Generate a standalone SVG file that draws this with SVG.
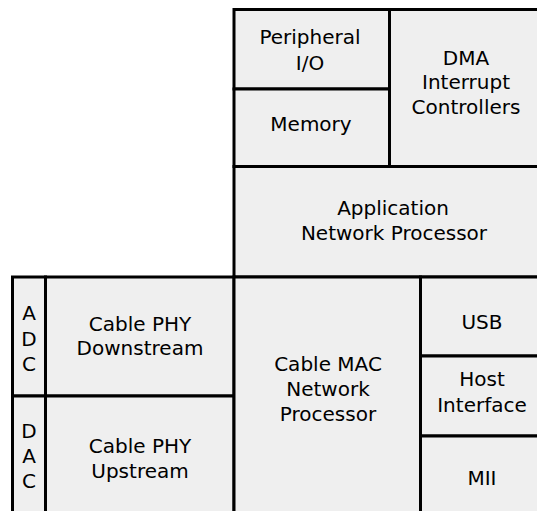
<svg xmlns="http://www.w3.org/2000/svg" width="537" height="511" viewBox="0 0 537 511">
<style>
.box{fill:#efefef;stroke:#000;stroke-width:3}
.thin{fill:#efefef;stroke:#000;stroke-width:2.2}
text{font-family:"DejaVu Sans","Liberation Sans",sans-serif;font-size:20px;fill:#000;text-anchor:middle}
</style>
<rect width="537" height="511" fill="#fff"/>
<g id="peripheral-io">
<rect class="box" x="234" y="9.5" width="155.5" height="79.5"/>
<text x="310" y="44">Peripheral</text>
<text x="310" y="70">I/O</text>
</g>
<g id="memory">
<rect class="box" x="234" y="89" width="155.5" height="77.5"/>
<text x="311" y="131">Memory</text>
</g>
<g id="dma">
<rect class="box" x="389.5" y="9.5" width="150" height="157"/>
<text x="466" y="65">DMA</text>
<text x="466" y="89">Interrupt</text>
<text x="466" y="114">Controllers</text>
</g>
<g id="application">
<rect class="box" x="234" y="166.5" width="305" height="110.5"/>
<text x="393" y="215">Application</text>
<text x="394" y="240">Network Processor</text>
</g>
<g id="adc">
<rect class="box" x="12.5" y="277" width="33" height="119"/>
<text x="29" y="320">A</text>
<text x="29" y="346">D</text>
<text x="29" y="371">C</text>
</g>
<g id="dac">
<rect class="box" x="12.5" y="396" width="33" height="118"/>
<text x="29" y="438">D</text>
<text x="29" y="463">A</text>
<text x="29" y="488">C</text>
</g>
<g id="cable-phy-downstream">
<rect class="box" x="45.5" y="277" width="188.5" height="119"/>
<text x="140" y="331">Cable PHY</text>
<text x="140" y="355">Downstream</text>
</g>
<g id="cable-phy-upstream">
<rect class="box" x="45.5" y="396" width="188.5" height="118"/>
<text x="140" y="453">Cable PHY</text>
<text x="140" y="478">Upstream</text>
</g>
<g id="cable-mac">
<rect class="box" x="234" y="277" width="186.5" height="237"/>
<text x="328" y="371">Cable MAC</text>
<text x="328" y="396">Network</text>
<text x="328" y="421">Processor</text>
</g>
<g id="usb">
<rect class="box" x="420.5" y="277" width="119" height="79"/>
<text x="482" y="329">USB</text>
</g>
<g id="host-interface">
<rect class="box" x="420.5" y="356" width="119" height="80"/>
<text x="482" y="386">Host</text>
<text x="482" y="412">Interface</text>
</g>
<g id="mii">
<rect class="box" x="420.5" y="436" width="119" height="78"/>
<text x="482" y="485">MII</text>
</g>
<g id="connectors"></g>
</svg>
